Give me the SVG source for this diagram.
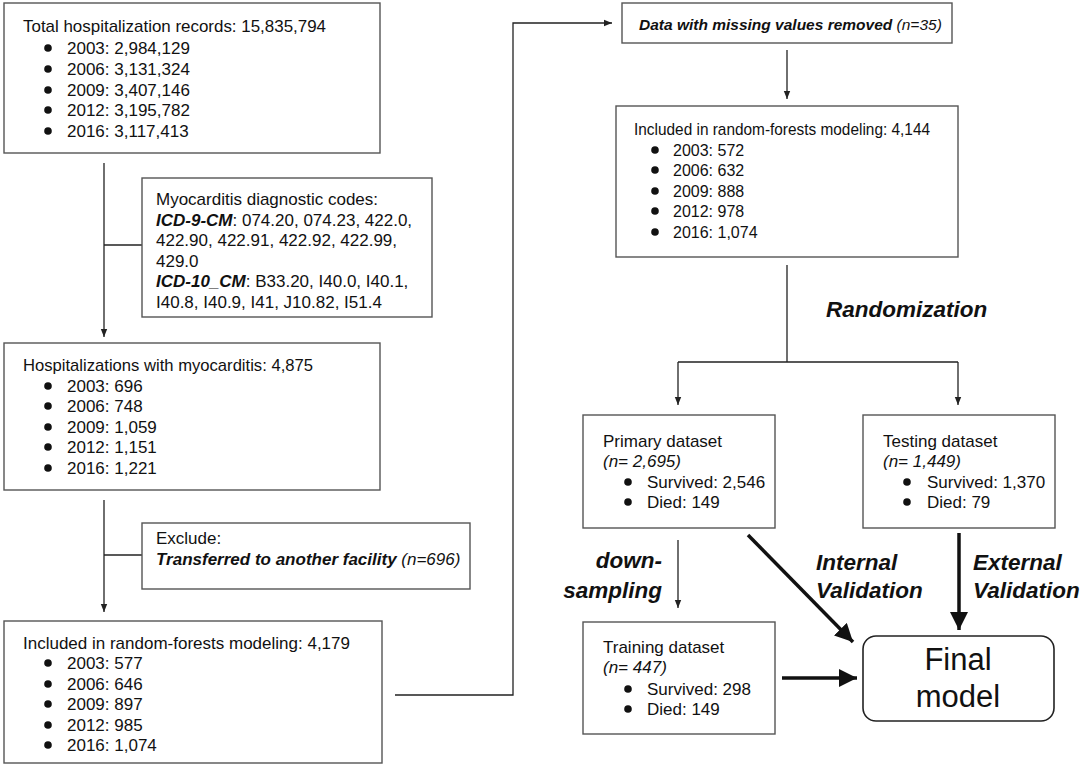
<svg xmlns="http://www.w3.org/2000/svg" width="1084" height="774" viewBox="0 0 1084 774">
<defs>
<style>
.box{fill:#fff;stroke:#555;stroke-width:1.4}
.t{font-family:"Liberation Sans",Arial,Helvetica,sans-serif;font-size:17px;fill:#111}
.s{font-size:16px}
.sm{font-size:15.5px}
.bi{font-weight:bold;font-style:italic}
.it{font-style:italic}
.lab{font-family:"Liberation Sans",Arial,Helvetica,sans-serif;font-size:22.5px;font-weight:bold;font-style:italic;fill:#111}
.big{font-family:"Liberation Sans",Arial,Helvetica,sans-serif;font-size:31px;fill:#111;text-anchor:middle}
.c{fill:none;stroke:#222;stroke-width:1.3}
.ct{fill:none;stroke:#111;stroke-width:3.5}
.dot{fill:#111}
</style>
<marker id="a" viewBox="0 0 10 10" refX="10" refY="5" markerWidth="8" markerHeight="8" markerUnits="userSpaceOnUse" orient="auto">
<path d="M0,1 L10,5 L0,9 z" fill="#222"/>
</marker>
<marker id="A" viewBox="0 0 10 10" refX="10" refY="5" markerWidth="18" markerHeight="18" markerUnits="userSpaceOnUse" orient="auto">
<path d="M0,0 L10,5 L0,10 z" fill="#111"/>
</marker>
</defs>

<g id="connectors">
<path class="c" d="M104,163 V337" marker-end="url(#a)"/>
<path class="c" d="M104,245 H142"/>
<path class="c" d="M104,500 V612" marker-end="url(#a)"/>
<path class="c" d="M104,555 H142"/>
<path class="c" d="M395,695 H513 V23 H612" marker-end="url(#a)"/>
<path class="c" d="M787,50 V99" marker-end="url(#a)"/>
<path class="c" d="M787,265 V362 M678,362 H958"/>
<path class="c" d="M678,362 V405" marker-end="url(#a)"/>
<path class="c" d="M958,362 V405" marker-end="url(#a)"/>
<path class="c" d="M678,540 V608" marker-end="url(#a)"/>
<path class="ct" d="M782,678 H857" marker-end="url(#A)"/>
<path class="ct" d="M748,535 L853,642" marker-end="url(#A)"/>
<path class="ct" d="M959,533 V630" marker-end="url(#A)"/>
<text class="lab" x="826" y="317">Randomization</text>
<text class="lab" x="662" y="568" text-anchor="end">down-</text>
<text class="lab" x="662" y="598" text-anchor="end">sampling</text>
<text class="lab" x="816" y="570">Internal</text>
<text class="lab" x="816" y="598">Validation</text>
<text class="lab" x="973" y="570">External</text>
<text class="lab" x="973" y="598">Validation</text>
</g>

<g id="total">
<rect class="box" x="4" y="3" width="376" height="150"/>
<text class="t" x="23" y="32" textLength="303" lengthAdjust="spacingAndGlyphs">Total hospitalization records: 15,835,794</text>
<circle class="dot" cx="48" cy="48" r="3.8"/><text class="t" x="67" y="54">2003: 2,984,129</text>
<circle class="dot" cx="48" cy="69" r="3.8"/><text class="t" x="67" y="75">2006: 3,131,324</text>
<circle class="dot" cx="48" cy="90" r="3.8"/><text class="t" x="67" y="96">2009: 3,407,146</text>
<circle class="dot" cx="48" cy="110" r="3.8"/><text class="t" x="67" y="116">2012: 3,195,782</text>
<circle class="dot" cx="48" cy="131" r="3.8"/><text class="t" x="67" y="137">2016: 3,117,413</text>
</g>

<g id="codes">
<rect class="box" x="142" y="178" width="290" height="139"/>
<text class="t" x="156" y="205">Myocarditis diagnostic codes:</text>
<text class="t" x="156" y="225.5"><tspan class="bi">ICD-9-CM</tspan>: 074.20, 074.23, 422.0,</text>
<text class="t" x="156" y="246">422.90, 422.91, 422.92, 422.99,</text>
<text class="t" x="156" y="266.5">429.0</text>
<text class="t" x="156" y="287"><tspan class="bi">ICD-10_CM</tspan>: B33.20, I40.0, I40.1,</text>
<text class="t" x="156" y="307.5">I40.8, I40.9, I41, J10.82, I51.4</text>
</g>

<g id="myocarditis">
<rect class="box" x="4" y="343" width="376" height="147"/>
<text class="t" x="23" y="371" textLength="290" lengthAdjust="spacingAndGlyphs">Hospitalizations with myocarditis: 4,875</text>
<circle class="dot" cx="48" cy="386" r="3.8"/><text class="t" x="67" y="392">2003: 696</text>
<circle class="dot" cx="48" cy="406" r="3.8"/><text class="t" x="67" y="412">2006: 748</text>
<circle class="dot" cx="48" cy="427" r="3.8"/><text class="t" x="67" y="433">2009: 1,059</text>
<circle class="dot" cx="48" cy="447" r="3.8"/><text class="t" x="67" y="453">2012: 1,151</text>
<circle class="dot" cx="48" cy="468" r="3.8"/><text class="t" x="67" y="474">2016: 1,221</text>
</g>

<g id="exclude">
<rect class="box" x="142" y="523" width="328" height="66"/>
<text class="t" x="156" y="544">Exclude:</text>
<text class="t" x="156" y="565"><tspan class="bi">Transferred to another facility</tspan> <tspan class="it">(n=696)</tspan></text>
</g>

<g id="included1">
<rect class="box" x="4" y="621" width="378" height="142"/>
<text class="t" x="23" y="649">Included in random-forests modeling: 4,179</text>
<circle class="dot" cx="48" cy="663" r="3.8"/><text class="t" x="67" y="669">2003: 577</text>
<circle class="dot" cx="48" cy="684" r="3.8"/><text class="t" x="67" y="690">2006: 646</text>
<circle class="dot" cx="48" cy="704" r="3.8"/><text class="t" x="67" y="710">2009: 897</text>
<circle class="dot" cx="48" cy="725" r="3.8"/><text class="t" x="67" y="731">2012: 985</text>
<circle class="dot" cx="48" cy="745" r="3.8"/><text class="t" x="67" y="751">2016: 1,074</text>
</g>

<g id="missing">
<rect class="box" x="622" y="3" width="330" height="40"/>
<text class="t sm" x="639" y="30"><tspan class="bi">Data with missing values removed</tspan> <tspan class="it">(n=35)</tspan></text>
</g>

<g id="included2">
<rect class="box" x="616" y="106" width="342" height="151"/>
<text class="t" x="634" y="135" textLength="296" lengthAdjust="spacingAndGlyphs">Included in random-forests modeling: 4,144</text>
<circle class="dot" cx="655" cy="150" r="3.8"/><text class="t s" x="673" y="156">2003: 572</text>
<circle class="dot" cx="655" cy="170" r="3.8"/><text class="t s" x="673" y="176">2006: 632</text>
<circle class="dot" cx="655" cy="191" r="3.8"/><text class="t s" x="673" y="197">2009: 888</text>
<circle class="dot" cx="655" cy="211" r="3.8"/><text class="t s" x="673" y="217">2012: 978</text>
<circle class="dot" cx="655" cy="232" r="3.8"/><text class="t s" x="673" y="238">2016: 1,074</text>
</g>

<g id="primary">
<rect class="box" x="583" y="415" width="192" height="113"/>
<text class="t" x="603" y="447">Primary dataset</text>
<text class="t it" x="603" y="467">(n= 2,695)</text>
<circle class="dot" cx="628" cy="482" r="3.8"/><text class="t" x="647" y="488">Survived: 2,546</text>
<circle class="dot" cx="628" cy="502" r="3.8"/><text class="t" x="647" y="508">Died: 149</text>
</g>

<g id="testing">
<rect class="box" x="863" y="415" width="192" height="113"/>
<text class="t" x="883" y="447">Testing dataset</text>
<text class="t it" x="883" y="467">(n= 1,449)</text>
<circle class="dot" cx="907" cy="482" r="3.8"/><text class="t" x="927" y="488">Survived: 1,370</text>
<circle class="dot" cx="907" cy="502" r="3.8"/><text class="t" x="927" y="508">Died: 79</text>
</g>

<g id="training">
<rect class="box" x="583" y="622" width="192" height="112"/>
<text class="t" x="603" y="653">Training dataset</text>
<text class="t it" x="603" y="673">(n= 447)</text>
<circle class="dot" cx="628" cy="689" r="3.8"/><text class="t" x="647" y="695">Survived: 298</text>
<circle class="dot" cx="628" cy="709" r="3.8"/><text class="t" x="647" y="715">Died: 149</text>
</g>

<g id="final">
<rect x="863" y="636" width="191" height="85" rx="13" fill="#fff" stroke="#222" stroke-width="1.6"/>
<text class="big" x="958" y="670">Final</text>
<text class="big" x="958" y="707">model</text>
</g>
</svg>
